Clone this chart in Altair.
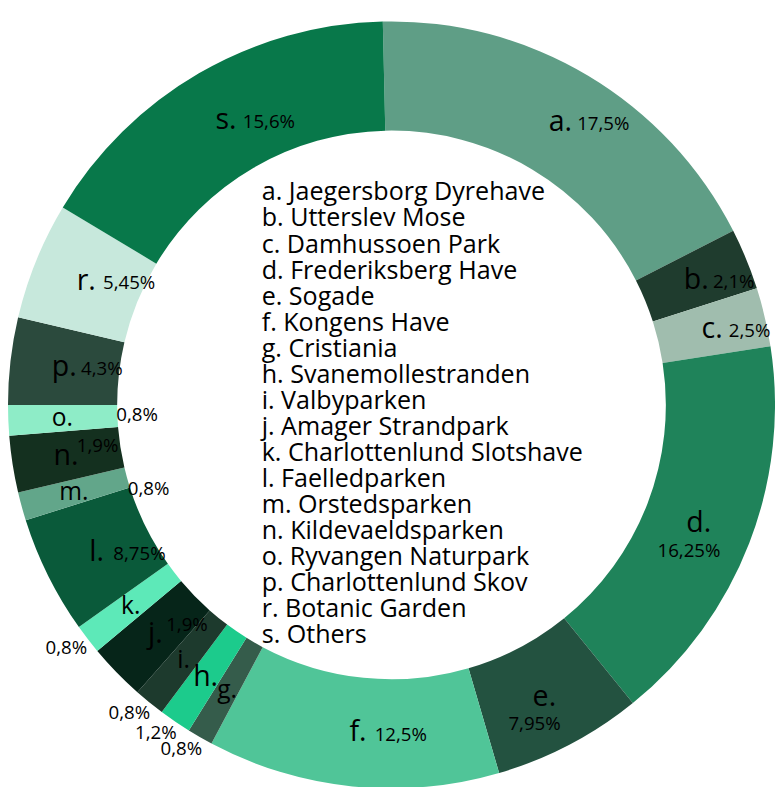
import math
import altair as alt
import pandas as pd

letters = ["a", "b", "c", "d", "e", "f", "g", "h", "i", "j", "k", "l", "m", "n", "o", "p", "r", "s"]
names = ["Jaegersborg Dyrehave", "Utterslev Mose", "Damhussoen Park", "Frederiksberg Have",
         "Sogade", "Kongens Have", "Cristiania", "Svanemollestranden", "Valbyparken",
         "Amager Strandpark", "Charlottenlund Slotshave", "Faelledparken", "Orstedsparken",
         "Kildevaeldsparken", "Ryvangen Naturpark", "Charlottenlund Skov", "Botanic Garden", "Others"]
# percentages as printed on the chart
values = [17.5, 2.1, 2.5, 16.25, 7.95, 12.5, 0.8, 1.2, 0.8, 1.9, 0.8, 8.75, 0.8, 1.9, 0.8, 4.3, 5.45, 15.6]
pct_labels = ["17,5%", "2,1%", "2,5%", "16,25%", "7,95%", "12,5%", "0,8%", "1,2%", "0,8%", "1,9%",
              "0,8%", "8,75%", "0,8%", "1,9%", "0,8%", "4,3%", "5,45%", "15,6%"]
# angular size of each slice as drawn in the picture (degrees)
arc_degrees = [64.3, 9.3, 8.9, 59.8, 22.7, 44.3, 3.9, 4.9, 4.7, 8.6, 4.5, 17.9, 4.3, 8.6, 4.6, 13.2, 17.8, 57.7]
colors = ["#5f9e86", "#1f3c2e", "#a0bdae", "#1f835a", "#235240", "#50c598", "#355c4b", "#1ccb8c",
          "#1d3a2d", "#062519", "#5de9b8", "#0a5a3a", "#62a68a", "#14301f", "#8eecc7", "#2b4a3d",
          "#c7e8dc", "#08784a"]

total = sum(arc_degrees)
df = pd.DataFrame({
    "idx": list(range(len(letters))),
    "letter": letters,
    "lab": [l + "." for l in letters],
    "value": values,
    "deg": arc_degrees,
    "pct": pct_labels,
})
legend_lines = [f"{l}. {n}" for l, n in zip(letters, names)]

FONT = "Open Sans"
CX, CY = 389, 397
off = math.radians(-1.3)
tscale = alt.Scale(domain=[0, total], range=[off, 2 * math.pi + off])

base = alt.Chart(df).transform_window(
    cum="sum(deg)", sort=[alt.SortField("idx")], frame=[None, 0]
).transform_calculate(
    start="datum.cum - datum.deg",
    mid="datum.cum - datum.deg / 2",
).transform_calculate(
    place=("datum.value >= 2 ? ((datum.mid > 90 && datum.mid < 180) ? 'below' : 'ring')"
           " : (datum.value >= 1.5 ? 'up' : (datum.mid > 245 ? 'inner' : 'outer'))")
)

pos = dict(x=alt.value(CX), y=alt.value(CY))

arcs = base.mark_arc(innerRadius=279, outerRadius=390).encode(
    theta=alt.Theta("start:Q", scale=tscale),
    theta2="cum:Q",
    color=alt.Color("letter:N", scale=alt.Scale(domain=letters, range=colors), legend=None),
    **pos,
)

letter_txt = base.mark_text(radius=335, font=FONT, color="black", align="center", baseline="middle").encode(
    theta=alt.Theta("mid:Q", scale=tscale),
    text="lab:N",
    size=alt.condition("datum.deg >= 4.8", alt.value(29), alt.value(25)),
    **pos,
)

def pct_layer(place, radius, dx, dy, align="center"):
    return base.transform_filter(f"datum.place == '{place}'").mark_text(
        radius=radius, dx=dx, dy=dy, font=FONT, fontSize=19, color="black",
        align=align, baseline="middle",
    ).encode(theta=alt.Theta("mid:Q", scale=tscale), text="pct:N", **pos)

pct_ring = pct_layer("ring", 335, 17, 2, align="left")
pct_up = pct_layer("up", 335, 11, -10, align="left")
pct_below = pct_layer("below", 335, -10, 28)
pct_inner = pct_layer("inner", 335, 76, -3)
pct_outer = pct_layer("outer", 400, -14, 3)

legend = alt.Chart(alt.Data(values=[{}])).mark_text(
    text=legend_lines, align="left", baseline="alphabetic", fontSize=25.5, lineHeight=26.5,
    font=FONT, color="black",
).encode(x=alt.value(257), y=alt.value(189))

chart = alt.layer(arcs, letter_txt, pct_ring, pct_up, pct_below, pct_inner, pct_outer, legend).properties(
    width=767, height=771, padding=0
).configure_view(stroke=None)

chart.save("out.html", embed_options={"renderer": "svg", "actions": False})
